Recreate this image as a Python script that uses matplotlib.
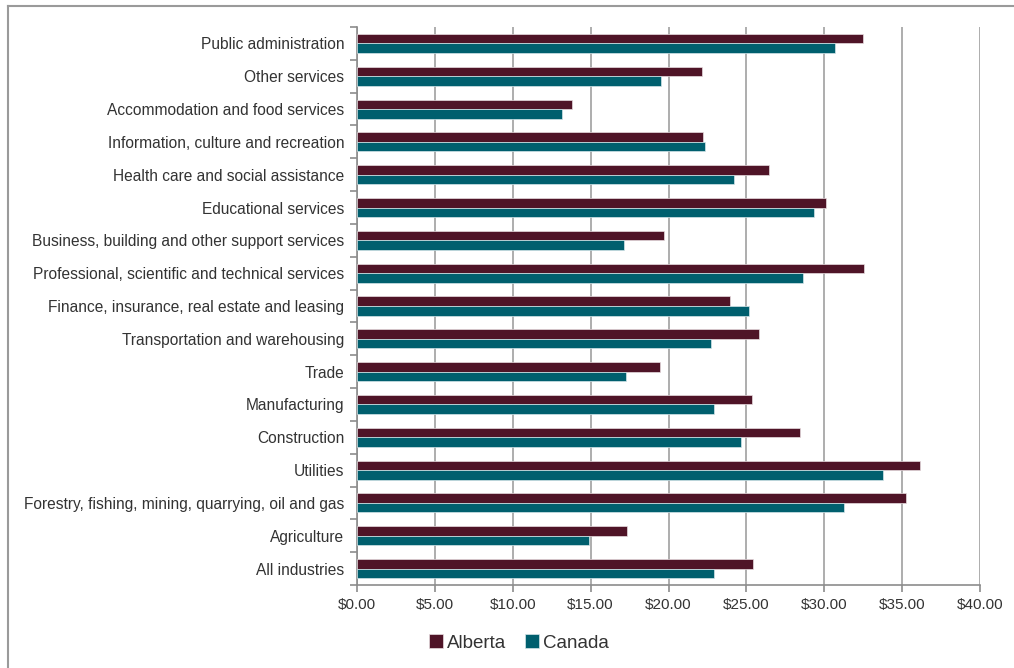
import numpy as np
import matplotlib
matplotlib.use('Agg')
import matplotlib.pyplot as plt
from matplotlib.lines import Line2D
from matplotlib.ticker import FuncFormatter

plt.rcParams['font.family'] = ['Liberation Sans', 'DejaVu Sans']

# Industries listed bottom to top
industries = [
    'All industries',
    'Agriculture',
    'Forestry, fishing, mining, quarrying, oil and gas',
    'Utilities',
    'Construction',
    'Manufacturing',
    'Trade',
    'Transportation and warehousing',
    'Finance, insurance, real estate and leasing',
    'Professional, scientific and technical services',
    'Business, building and other support services',
    'Educational services',
    'Health care and social assistance',
    'Information, culture and recreation',
    'Accommodation and food services',
    'Other services',
    'Public administration',
]
alberta = [25.45, 17.35, 35.28, 36.12, 28.45, 25.35, 19.43, 25.82, 23.93,
           32.56, 19.71, 30.12, 26.46, 22.24, 13.82, 22.15, 32.48]
canada = [22.90, 14.91, 31.24, 33.79, 24.68, 22.90, 17.27, 22.71, 25.17,
          28.62, 17.16, 29.37, 24.21, 22.35, 13.16, 19.52, 30.70]

AB_COLOR = '#4f1427'
CA_COLOR = '#005f6e'
TEXT = '#333333'
GRID = '#a0a0a0'

fig = plt.figure(figsize=(10.14, 6.68), dpi=100)
ax = fig.add_axes([357 / 1014, 1 - 585 / 668, 623 / 1014, 558 / 668])

y = np.arange(len(industries))
h = 0.29
ax.barh(y + h / 2, alberta, height=h, color=AB_COLOR, edgecolor='#e8dde0',
        linewidth=0.5, label='Alberta', zorder=3)
ax.barh(y - h / 2, canada, height=h, color=CA_COLOR, edgecolor='#d5e6e9',
        linewidth=0.5, label='Canada', zorder=3)

ax.set_xlim(0, 40)
ax.set_ylim(-0.5, len(industries) - 0.5)
ax.set_xticks(np.arange(0, 41, 5))
ax.xaxis.set_major_formatter(FuncFormatter(lambda v, p: f'${v:.2f}'))
ax.set_yticks(y)
ax.set_yticklabels(industries)
ax.set_yticks(np.arange(-0.5, len(industries), 1), minor=True)

ax.grid(axis='x', color=GRID, linewidth=1.2, zorder=0)
for side in ['top', 'right']:
    ax.spines[side].set_visible(False)
for side in ['left', 'bottom']:
    ax.spines[side].set_color('#8c8c8c')
    ax.spines[side].set_linewidth(1.2)

ax.tick_params(axis='y', which='major', length=0, pad=9, labelsize=11.2,
               labelcolor=TEXT)
ax.tick_params(axis='y', which='minor', length=5, color='#8c8c8c', width=1.2)
ax.tick_params(axis='x', length=5, color='#8c8c8c', width=1.2, pad=4,
               labelsize=11, labelcolor=TEXT)

handles, labels = ax.get_legend_handles_labels()
fig.legend(handles, labels, loc='center', bbox_to_anchor=(519 / 1014, 1 - 643 / 668),
           ncol=2, frameon=False, fontsize=13.5, handlelength=0.75, handleheight=0.75,
           handletextpad=0.2, columnspacing=1.0, labelcolor=TEXT)

# chart-area frame (top and left edges)
fig.add_artist(Line2D([8 / 1014, 1], [1 - 6 / 668, 1 - 6 / 668],
                      transform=fig.transFigure, color='#9a9a9a', linewidth=1.5))
fig.add_artist(Line2D([8 / 1014, 8 / 1014], [0, 1 - 6 / 668],
                      transform=fig.transFigure, color='#9a9a9a', linewidth=1.5))

fig.savefig('out.png', dpi=100)
